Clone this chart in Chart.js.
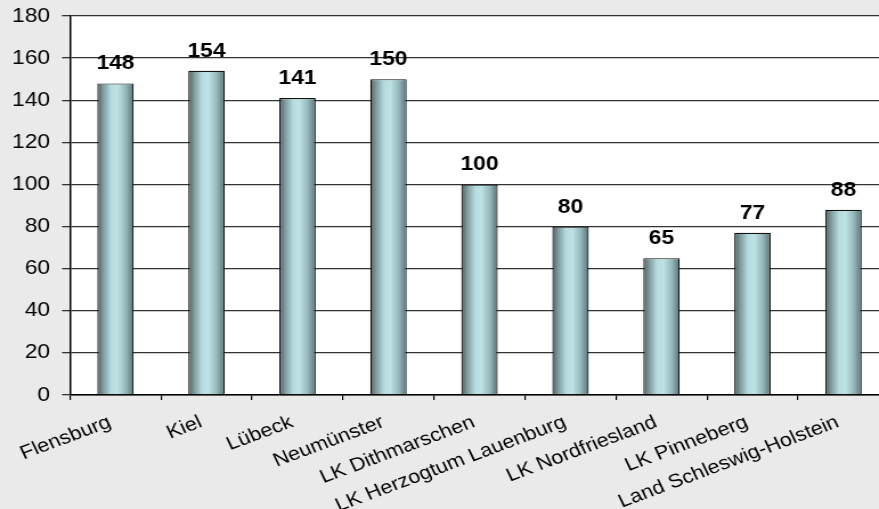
<!DOCTYPE html>
<html>
<head>
<meta charset="utf-8">
<script src="https://cdn.jsdelivr.net/npm/chart.js@4"></script>
<style>
  html, body { margin: 0; padding: 0; background: #eaeaea; overflow: hidden; }
  #wrap { position: absolute; left: 0; top: 0; width: 790px; height: 509px;
          transform: scaleX(1.14); transform-origin: 0 0; }
</style>
</head>
<body>
<div id="wrap"><canvas id="kreise_Chart"></canvas></div>
<script>
// Kreise und kreisfreie Städte
const labels = ['Flensburg', 'Kiel', 'Lübeck', 'Neumünster', 'LK Dithmarschen',
  'LK Herzogtum Lauenburg', 'LK Nordfriesland', 'LK Pinneberg', 'Land Schleswig-Holstein'];
const values = [148, 154, 141, 150, 100, 80, 65, 77, 88];
const yTicks = [0, 20, 40, 60, 80, 100, 120, 140, 160, 180];

const FONT = '"Liberation Sans", Arial, sans-serif';
const BAR_PCT = 0.4;

// Zylinder-Optik: horizontaler Verlauf über die Balkenbreite
function barGradient(c) {
  const chart = c.chart;
  const area = chart.chartArea;
  const xs = chart.scales.x;
  if (!area || !xs) return '#a9cfd2';
  const cx = xs.getPixelForValue(c.dataIndex);
  const w = (area.right - area.left) / labels.length * BAR_PCT;
  const g = chart.ctx.createLinearGradient(cx - w / 2, 0, cx + w / 2, 0);
  g.addColorStop(0, '#4a6062');
  g.addColorStop(0.15, '#7c9799');
  g.addColorStop(0.38, '#b6dcdf');
  g.addColorStop(0.55, '#bee2e5');
  g.addColorStop(0.78, '#97b9bc');
  g.addColorStop(1, '#5a7072');
  return g;
}

// weißer Hintergrund nur im Diagrammbereich
const plotBg = {
  id: 'plotBg',
  beforeDraw(chart) {
    const { ctx, chartArea: a } = chart;
    ctx.save();
    ctx.fillStyle = '#ffffff';
    ctx.fillRect(a.left, a.top, a.right - a.left, a.bottom - a.top);
    ctx.restore();
  }
};

// Werte über den Balken
const valueLabels = {
  id: 'valueLabels',
  afterDatasetsDraw(chart) {
    const ctx = chart.ctx;
    const meta = chart.getDatasetMeta(0);
    ctx.save();
    ctx.font = 'bold 20px ' + FONT;
    ctx.fillStyle = '#000';
    ctx.textAlign = 'center';
    ctx.textBaseline = 'alphabetic';
    meta.data.forEach((bar, i) => {
      ctx.fillText(values[i], bar.x, bar.y - 14);
    });
    ctx.restore();
  }
};

const context = document.getElementById('kreise_Chart').getContext('2d');
const kreise_Chart = new Chart(context, {
  type: 'bar',
  data: {
    labels: labels,
    datasets: [{
      data: values,
      backgroundColor: barGradient,
      borderColor: '#111',
      borderWidth: 1.2,
      barPercentage: BAR_PCT,
      categoryPercentage: 1
    }]
  },
  options: {
    responsive: true,
    maintainAspectRatio: false,
    animation: false,
    layout: { padding: { top: 16, right: 10.2, bottom: 0, left: 0 } },
    plugins: {
      legend: { display: false },
      tooltip: { enabled: false }
    },
    scales: {
      x: {
        afterFit(scale) { scale.height = 114; },
        border: { color: '#000', width: 1.5 },
        grid: { offset: true, drawOnChartArea: false, drawTicks: true, tickLength: 5, color: '#000', lineWidth: 1.2 },
        ticks: {
          autoSkip: false,
          minRotation: 23,
          maxRotation: 23,
          padding: 9,
          color: '#000',
          font: { family: FONT, size: 19 },
          // ein Leerzeichen rückt die Beschriftung etwas vom Teilstrich ab
          callback(v, i) { return labels[i] + ' '; }
        }
      },
      y: {
        min: 0,
        max: 180,
        afterFit(scale) {
          scale.width = 61.4;
          scale.paddingTop = 4;
          scale.paddingBottom = 4;
        },
        afterBuildTicks(scale) { scale.ticks = yTicks.map(v => ({ value: v })); },
        border: { color: '#000', width: 1.5 },
        grid: { color: '#333', lineWidth: 1.3, tickLength: 7, drawTicks: true },
        ticks: {
          padding: 10.5,
          color: '#000',
          font: { family: FONT, size: 20 }
        }
      }
    }
  },
  plugins: [plotBg, valueLabels]
});
</script>
</body>
</html>
